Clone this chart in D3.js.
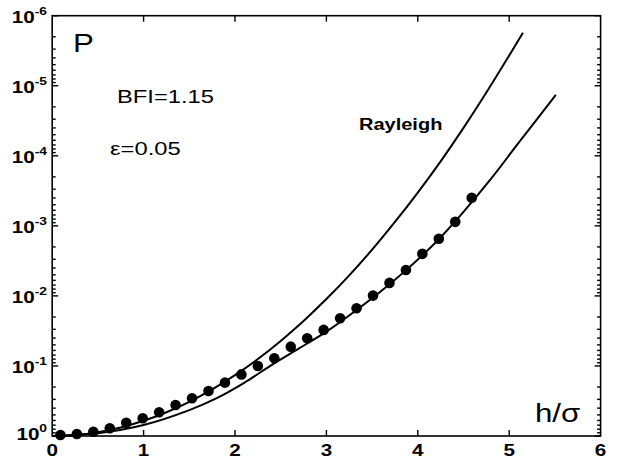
<!DOCTYPE html>
<html>
<head>
<meta charset="utf-8">
<script src="https://cdn.jsdelivr.net/npm/d3@7"></script>
<style>
  body { margin: 0; background: #fff; }
  svg { display: block; }
  text { font-family: "Liberation Sans", Arial, sans-serif; fill: #000; }
  .tick { stroke: #000; stroke-width: 1.4px; }
</style>
</head>
<body>
<svg id="chart" width="626" height="459"></svg>
<script>
// measured points (h/sigma, exceedance probability)
var dotH = [0.09, 0.27, 0.45, 0.63, 0.81, 0.99, 1.17, 1.35, 1.53, 1.71, 1.89, 2.07, 2.25,
            2.43, 2.61, 2.79, 2.97, 3.15, 3.33, 3.51, 3.69, 3.87, 4.05, 4.23, 4.41, 4.59];
var dotP = [0.968, 0.935, 0.869, 0.776, 0.646, 0.558, 0.458, 0.361, 0.289, 0.228, 0.173, 0.132, 0.1,
            0.0776, 0.053, 0.0402, 0.0306, 0.0208, 0.015, 0.0099, 0.00652, 0.00426, 0.00251, 0.00153, 0.000877, 0.000398];

// Rayleigh curve
var rayH = [0, 0.25, 0.5, 0.75, 1, 1.25, 1.5, 1.75, 2, 2.25, 2.5, 2.75, 3, 3.25, 3.5, 3.75, 4, 4.25, 4.5, 4.75, 5, 5.15];
var rayP = [1, 0.969, 0.882, 0.755, 0.607, 0.458, 0.325, 0.216, 0.135, 0.0796, 0.0439, 0.0228, 0.0111,
            0.00509, 0.00219, 0.00088, 0.000335, 0.00012, 0.00004, 0.0000125, 0.0000037, 0.00000175];

// BFI = 1.15 curve
var bfiH = [0, 0.5, 1, 1.5, 1.8, 2.1, 2.42, 2.7, 3, 3.3, 3.6, 3.9, 4.2, 4.5, 4.8, 5.1, 5.51];
var bfiP = [1, 0.912, 0.697, 0.427, 0.288, 0.174, 0.0933, 0.0562, 0.0324, 0.017, 0.00851,
            0.00398, 0.0017, 0.00063, 0.000214, 0.0000661, 0.0000135];

var xTicks = [0, 1, 2, 3, 4, 5, 6];
var yExps = [0, -1, -2, -3, -4, -5, -6];

(function(){
    var svg = d3.select('#chart');
    var pl = 52.2, pr = 600.6, pt = 15.7, pb = 436;
    var sx = 1.25; // glyphs in the reference are wider than tall

    var x = d3.scaleLinear().domain([0, 6]).range([pl, pr]);
    var y = d3.scaleLog().domain([1, 1e-6]).range([pb, pt]);

    function label(g, px, py, size, weight, anchor){
        return g.append('text')
            .attr('transform', 'translate(' + px + ',' + py + ') scale(' + sx + ',1)')
            .attr('font-size', size)
            .attr('font-weight', weight)
            .attr('text-anchor', anchor);
    }

    function tick(x1, y1, x2, y2){
        svg.append('line').attr('class', 'tick')
            .attr('x1', x1).attr('y1', y1).attr('x2', x2).attr('y2', y2);
    }

    // y ticks, both sides, pointing inward
    yExps.forEach(function(e){
        var v = Math.pow(10, e);
        tick(pl, y(v), pl + 6, y(v));
        tick(pr, y(v), pr - 6, y(v));
        if(e === -6) return;
        for(var k = 2; k <= 9; k++){
            var m = k * Math.pow(10, e - 1);
            tick(pl, y(m), pl + 3.5, y(m));
            tick(pr, y(m), pr - 3.5, y(m));
        }
    });

    // x ticks, bottom and top
    xTicks.slice(1, 6).forEach(function(t){
        tick(x(t), pb, x(t), pb - 6);
        tick(x(t), pt, x(t), pt + 6);
    });

    // frame
    svg.append('rect')
        .attr('x', pl).attr('y', pt)
        .attr('width', pr - pl).attr('height', pb - pt)
        .attr('fill', 'none').attr('stroke', '#000').attr('stroke-width', 1.6);

    // x tick labels
    xTicks.forEach(function(t){
        label(svg, x(t), 456, 16.5, 'bold', 'middle').text(t);
    });

    // y tick labels 10^e
    yExps.forEach(function(e){
        var py = y(Math.pow(10, e)) + (e === 0 ? 4 : 7);
        var t = label(svg, 47, py, 16.5, 'bold', 'end');
        t.append('tspan').text('10');
        t.append('tspan').attr('font-size', 11).attr('dy', -8).text(e === 0 ? '0' : '-' + (-e));
    });

    // curves
    var line = d3.line()
        .x(function(d){ return x(d[0]); })
        .y(function(d){ return y(d[1]); })
        .curve(d3.curveCatmullRom);

    svg.append('path')
        .datum(d3.zip(rayH, rayP))
        .attr('d', line)
        .attr('fill', 'none').attr('stroke', '#000').attr('stroke-width', 2);

    svg.append('path')
        .datum(d3.zip(bfiH, bfiP))
        .attr('d', line)
        .attr('fill', 'none').attr('stroke', '#000').attr('stroke-width', 2);

    // measured dots
    svg.append('g').selectAll('circle')
        .data(d3.zip(dotH, dotP))
        .enter()
        .append('circle')
            .attr('cx', function(d){ return x(d[0]); })
            .attr('cy', function(d){ return y(d[1]); })
            .attr('r', 5.3)
            .attr('fill', '#000');

    // annotations
    label(svg, 73, 52, 25, 'normal', 'start').text('P');
    label(svg, 117, 103, 19, 'normal', 'start').text('BFI=1.15');
    label(svg, 110, 155, 19, 'normal', 'start').text('ε=0.05');
    label(svg, 359, 130, 16, 'bold', 'start').text('Rayleigh');
    label(svg, 535, 422, 25, 'normal', 'start').text('h/σ');
})();
</script>
</body>
</html>
